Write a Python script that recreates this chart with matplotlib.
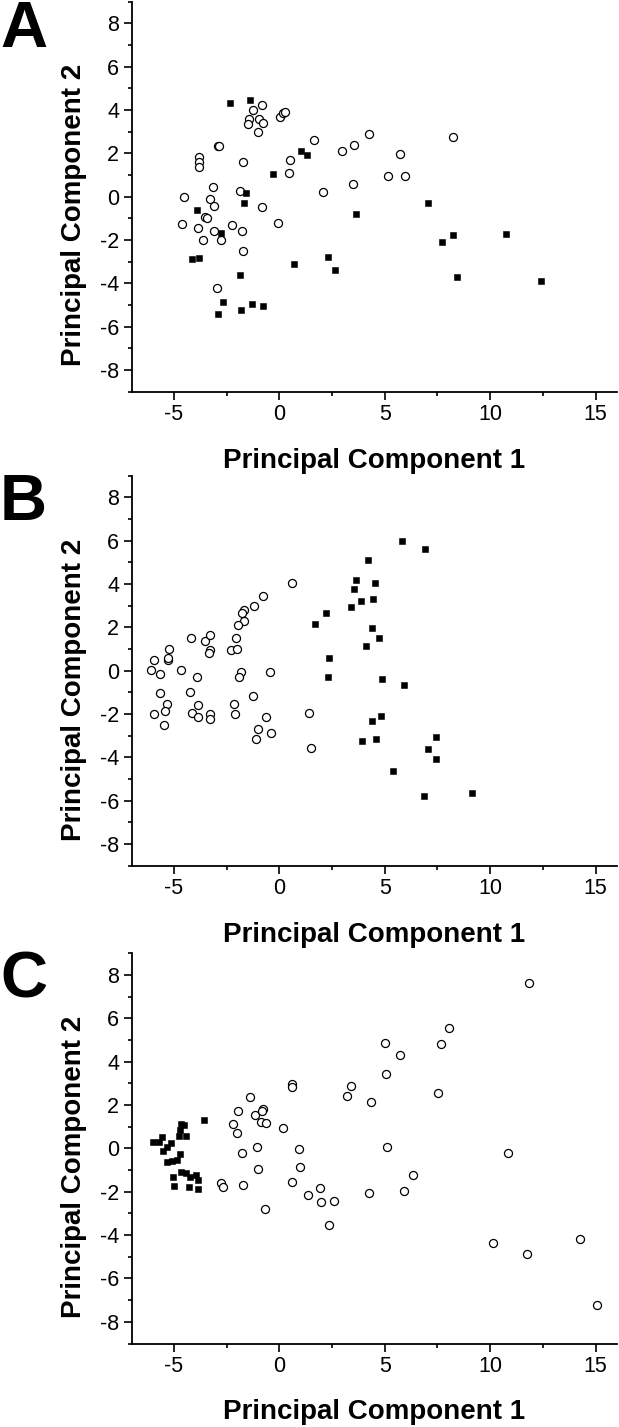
import matplotlib
matplotlib.use("Agg")
import matplotlib.pyplot as plt
from matplotlib.ticker import MultipleLocator

plt.rcParams['font.family'] = ['Liberation Sans', 'DejaVu Sans']
plt.rcParams['axes.unicode_minus'] = False

# ---------------- Panel A ----------------
a_sq_x = [-2.34, -1.39, 1.03, 1.30, -0.28, -1.60, -1.67, -3.92, -2.78, -4.12, -3.82, -1.85,
          0.71, 2.29, 2.62, -2.65, -2.91, -1.80, -1.31, -0.77, 3.63, 7.06, 8.25, 7.73,
          10.76, 8.44, 12.43]
a_sq_y = [4.30, 4.45, 2.12, 1.92, 1.03, 0.18, -0.31, -0.61, -1.66, -2.89, -2.84, -3.61,
          -3.10, -2.80, -3.38, -4.84, -5.41, -5.25, -4.96, -5.05, -0.80, -0.31, -1.77, -2.09,
          -1.72, -3.70, -3.90]
a_ci_x = [-1.23, -0.81, -1.45, -1.50, -0.95, -0.76, -1.01, 0.03, 0.16, 0.28, -2.92, -2.84,
          -3.79, -3.81, -3.82, -1.74, 0.51, 0.46, 1.63, 2.95, 3.55, 3.51, 2.07, -4.52,
          -3.14, -3.30, -3.08, -1.86, -0.82, -3.51, -3.44, -4.63, -3.87, -2.26, -0.06,
          -3.11, -1.77, -3.60, -2.78, -1.74, -2.97, 4.23, 5.72, 5.16, 5.94, 8.23]
a_ci_y = [4.02, 4.25, 3.59, 3.33, 3.56, 3.38, 2.96, 3.69, 3.87, 3.89, 2.33, 2.33,
          1.84, 1.60, 1.38, 1.60, 1.71, 1.11, 2.61, 2.12, 2.38, 0.58, 0.22, 0.00,
          0.46, -0.09, -0.43, 0.25, -0.49, -0.94, -1.00, -1.26, -1.46, -1.32, -1.20,
          -1.58, -1.60, -2.00, -2.00, -2.49, -4.21, 2.89, 1.97, 0.94, 0.97, 2.76]

# ---------------- Panel B ----------------
b_sq_x = [1.67, 2.20, 2.35, 2.31, 3.40, 3.54, 3.62, 5.81, 6.90, 4.19, 4.53, 3.89, 4.44,
          4.39, 4.71, 4.12, 4.87, 5.89, 4.83, 4.39, 3.92, 4.58, 7.42, 7.06, 7.41, 5.39,
          6.84, 9.13]
b_sq_y = [2.15, 2.68, 0.58, -0.29, 2.92, 3.75, 4.17, 6.00, 5.60, 5.11, 4.05, 3.20, 3.32,
          1.95, 1.52, 1.12, -0.37, -0.65, -2.09, -2.34, -3.23, -3.14, -3.05, -3.62, -4.08,
          -4.62, -5.78, -5.66]
b_ci_x = [0.60, -0.76, -1.18, -1.69, -1.79, -1.67, -1.96, -4.19, -3.51, -3.27, -3.29,
          -3.32, -2.07, -2.27, -2.02, -5.21, -5.92, -5.26, -5.26, -6.10, -4.66, -5.66,
          -3.92, -1.80, -1.90, -0.43, -5.66, -4.22, -1.23, -5.34, -5.94, -5.40, -5.47,
          -4.14, -3.87, -3.84, -3.27, -3.27, -2.16, -2.10, -0.62, -1.03, -1.11, -0.38,
          1.39, 1.48]
b_ci_y = [4.03, 3.46, 2.98, 2.78, 2.65, 2.31, 2.09, 1.52, 1.38, 1.63, 0.95,
          0.80, 1.52, 0.95, 1.02, 1.00, 0.51, 0.49, 0.60, 0.03, 0.05, -0.15,
          -0.28, -0.06, -0.28, -0.06, -1.05, -0.98, -1.18, -1.55, -1.98, -1.86, -2.52,
          -1.97, -1.60, -2.15, -2.02, -2.25, -1.54, -2.02, -2.15, -2.68, -3.17, -2.86,
          -1.95, -3.58]

# ---------------- Panel C ----------------
c_sq_x = [-3.57, -4.66, -4.53, -4.71, -4.74, -4.42, -6.00, -5.58, -5.69, -5.13, -5.34,
          -5.53, -4.71, -4.87, -5.10, -5.31, -4.64, -4.42, -5.02, -4.23, -3.97, -3.84,
          -4.99, -4.28, -3.87]
c_sq_y = [1.29, 1.15, 1.06, 0.84, 0.57, 0.57, 0.31, 0.54, 0.31, 0.23, 0.05,
          -0.11, -0.26, -0.54, -0.57, -0.64, -1.10, -1.15, -1.30, -1.30, -1.24, -1.46,
          -1.75, -1.79, -1.89]
c_ci_x = [-2.78, -2.67, -2.20, -2.01, -1.96, -1.75, -1.72, -1.37, -1.14, -0.77, -0.82,
          -0.87, -0.62, -1.07, -0.99, -0.66, 0.16, 0.58, 0.60, 0.92, 0.96, 0.60, 1.37,
          1.93, 1.97, 2.58, 2.34, 3.21, 3.38, 11.82, 8.06, 7.65, 5.02, 5.70, 5.07, 4.36,
          7.54, 5.12, 10.85, 6.35, 4.25, 5.92, 10.13, 11.74, 14.25, 15.06]
c_ci_y = [-1.61, -1.76, 1.12, 0.70, 1.75, -0.20, -1.67, 2.38, 1.55, 1.84, 1.72,
          1.24, 1.18, 0.08, -0.93, -2.79, 0.93, 2.96, 2.82, -0.03, -0.86, -1.56, -2.16,
          -1.82, -2.48, -2.44, -3.51, 2.42, 2.90, 7.62, 5.55, 4.83, 4.87, 4.32, 3.42, 2.15,
          2.57, 0.05, -0.20, -1.21, -2.07, -1.95, -4.34, -4.89, -4.20, -7.23]

panels = [
    ("A", a_sq_x, a_sq_y, a_ci_x, a_ci_y),
    ("B", b_sq_x, b_sq_y, b_ci_x, b_ci_y),
    ("C", c_sq_x, c_sq_y, c_ci_x, c_ci_y),
]

x_limits = (-7, 16)
y_limits = (-9, 9)
x_major = [-5, 0, 5, 10, 15]
y_major = [-8, -6, -4, -2, 0, 2, 4, 6, 8]

fig = plt.figure(figsize=(6.19, 14.27), dpi=100)
W, H = 619, 1427

axes_bottoms = [0.7255, 0.3933, 0.0585]
letter_tops = [0, 473, 950]

for (letter, sx, sy, cx, cy), bot, ltop in zip(panels, axes_bottoms, letter_tops):
    ax = fig.add_axes([0.2128, bot, 0.7835, 0.2734])
    ax.plot(cx, cy, linestyle='none', marker='o', markersize=5.8,
            markerfacecolor='white', markeredgecolor='black', markeredgewidth=0.9,
            clip_on=False, zorder=3)
    ax.plot(sx, sy, linestyle='none', marker='s', markersize=4.6,
            markerfacecolor='black', markeredgecolor='black', markeredgewidth=0.4,
            clip_on=False, zorder=4)
    ax.set_xlim(*x_limits)
    ax.set_ylim(*y_limits)
    ax.set_xticks(x_major)
    ax.set_yticks(y_major)
    ax.xaxis.set_minor_locator(MultipleLocator(2.5))
    ax.yaxis.set_minor_locator(MultipleLocator(1))
    for s in ['top', 'right']:
        ax.spines[s].set_visible(False)
    for s in ['left', 'bottom']:
        ax.spines[s].set_linewidth(1.3)
    ax.tick_params(which='major', direction='out', length=5.5, width=1.2,
                   labelsize=15.5, pad=3.5)
    ax.tick_params(which='minor', direction='out', length=2.6, width=1.2)
    ax.tick_params(axis='x', which='major', pad=3.5)
    ax.set_xlabel("Principal Component 1", fontsize=20, fontweight='bold')
    ax.set_ylabel("Principal Component 2", fontsize=20, fontweight='bold')
    ax.xaxis.set_label_coords(0.5, -0.143)
    ax.yaxis.set_label_coords(-0.092, 0.452)
    fig.text(0.0, 1 - ltop / H, letter, fontsize=47, fontweight='bold',
             ha='left', va='top')

fig.savefig("out.png", dpi=100)
